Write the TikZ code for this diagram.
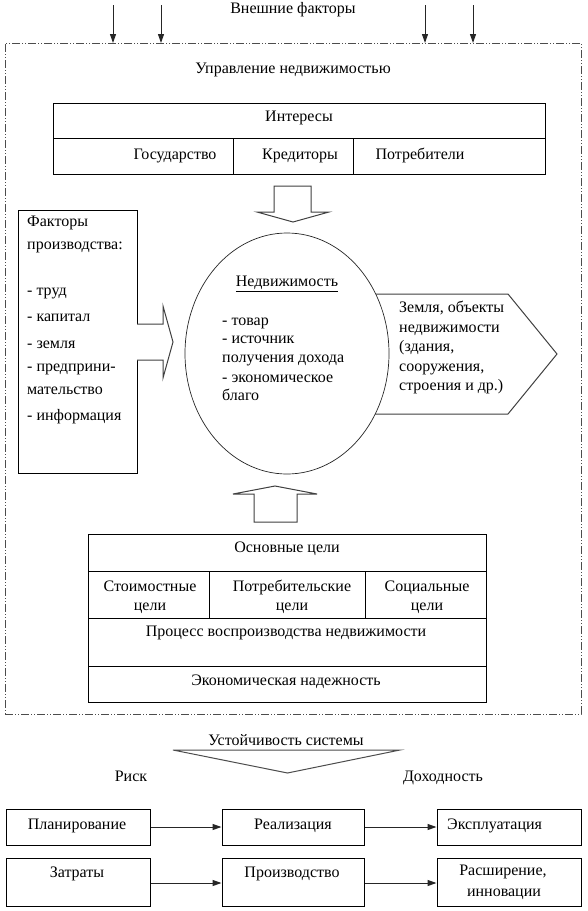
\documentclass[tikz,border=0pt]{standalone}
\usepackage{fontspec}
\setmainfont{Liberation Serif}
\usetikzlibrary{arrows.meta,shapes.geometric}
\begin{document}
\begin{tikzpicture}[x=1pt,y=-1pt,
  txt/.style={inner sep=0pt, text height=11pt, text depth=4pt, font=\fontsize{16}{19}\selectfont},
  ltxt/.style={txt, anchor=west},
  cell/.style={draw, line width=1pt, inner sep=0pt},
  blockarrow/.style={draw=black!75, line width=1pt, fill=white, line join=miter},
  arr/.style={draw=black!85, line width=1pt, -{Triangle[length=9pt,width=6pt]}},
  frame/.style={draw=black!70, line width=0.8pt, inner sep=0pt, dash pattern=on 8pt off 2pt on 1pt off 2pt on 1pt off 2pt},
]
\useasboundingbox (0,0) rectangle (587,911);
\fill[white] (0,0) rectangle (587,911);

% external factors
\node[txt] (ext) at (293,10) {Внешние факторы};
\coordinate (a1s) at (113,5);  \coordinate (a1e) at (113,43);
\coordinate (a2s) at (161,5);  \coordinate (a2e) at (161,43);
\coordinate (a3s) at (425,5);  \coordinate (a3e) at (425,43);
\coordinate (a4s) at (473,5);  \coordinate (a4e) at (473,43);
\draw[arr] (a1s) -- (a1e);
\draw[arr] (a2s) -- (a2e);
\draw[arr] (a3s) -- (a3e);
\draw[arr] (a4s) -- (a4e);

% frame
\node[frame, minimum width=576pt, minimum height=671pt] (fr) at (293,378.5) {};
\node[txt] (upr) at (293,70) {Управление недвижимостью};

% interests table
\node[cell, minimum width=492pt, minimum height=35pt] (inttop) at (299,120.5) {};
\node[cell, minimum width=180pt, minimum height=36pt] (gos) at (143,156) {};
\node[cell, minimum width=120pt, minimum height=36pt] (kred) at (293,156) {};
\node[cell, minimum width=192pt, minimum height=36pt] (potr) at (449,156) {};
\node[txt] (tint) at (299,118) {Интересы};
\node[txt] (tgos) at (175,156) {Государство};
\node[txt] (tkred) at (300,156) {Кредиторы};
\node[txt] (tpotr) at (420,156) {Потребители};

% down block arrow
\draw[blockarrow] (274,186) -- (311,186) -- (311,212) -- (329,212) -- (293,222) -- (257,212) -- (274,212) -- cycle;

% factors box
\node[cell, minimum width=119pt, minimum height=263pt] (fact) at (77.5,341.5) {};
\node[ltxt] (f1) at (27,223) {Факторы};
\node[ltxt] (f2) at (27,246) {производства:};
\node[ltxt] (f3) at (27,292) {- труд};
\node[ltxt] (f4) at (27,318) {- капитал};
\node[ltxt] (f5) at (27,345) {- земля};
\node[ltxt] (f6) at (27,368) {- предприни-};
\node[ltxt] (f7) at (27,391) {мательство};
\node[ltxt] (f8) at (27,417) {- информация};

% right block arrow from factors
\draw[blockarrow] (137,324) -- (163,324) -- (163,306) -- (173,342) -- (163,378) -- (163,360) -- (137,360);

% pentagon
\draw[blockarrow] (330,294) -- (508,294) -- (557,354) -- (508,414) -- (330,414);
\node[ltxt] (p1) at (399,309) {Земля, объекты};
\node[ltxt] (p2) at (399,329) {недвижимости};
\node[ltxt] (p3) at (399,348) {(здания,};
\node[ltxt] (p4) at (399,368) {сооружения,};
\node[ltxt] (p5) at (399,387) {строения и др.)};

% ellipse
\node[draw=black!85, line width=0.7pt, ellipse, fill=white, inner sep=0pt, minimum width=204pt, minimum height=241pt] (ell) at (287,353.5) {};
\node[txt] (nedv) at (287,283) {\underline{Недвижимость}};
\node[ltxt] (e1) at (222,322) {- товар};
\node[ltxt] (e2) at (222,340) {- источник};
\node[ltxt] (e3) at (222,359) {получения дохода};
\node[ltxt] (e4) at (222,379) {- экономическое};
\node[ltxt] (e5) at (222,397) {благо};

% up block arrow
\draw[blockarrow] (254,522) -- (254,494) -- (233,494) -- (275,486) -- (317,494) -- (297,494) -- (297,522) -- cycle;

% goals table
\node[cell, minimum width=398pt, minimum height=37pt] (gtop) at (287,552.5) {};
\node[cell, minimum width=121pt, minimum height=47pt] (g1) at (148.5,594.5) {};
\node[cell, minimum width=156pt, minimum height=47pt] (g2) at (287,594.5) {};
\node[cell, minimum width=121pt, minimum height=47pt] (g3) at (425.5,594.5) {};
\node[cell, minimum width=398pt, minimum height=48pt] (gproc) at (287,642) {};
\node[cell, minimum width=398pt, minimum height=36pt] (gecon) at (287,684) {};
\node[txt] (tg) at (287,549) {Основные цели};
\node[txt] (tg1a) at (150,588) {Стоимостные};
\node[txt] (tg1b) at (150,607) {цели};
\node[txt] (tg2a) at (292,588) {Потребительские};
\node[txt] (tg2b) at (292,607) {цели};
\node[txt] (tg3a) at (427,588) {Социальные};
\node[txt] (tg3b) at (427,607) {цели};
\node[txt] (tproc) at (286,633) {Процесс воспроизводства недвижимости};
\node[txt] (tecon) at (286,682) {Экономическая надежность};

% bottom section
\node[txt] (ust) at (286,742) {Устойчивость системы};
\draw[draw=black!70, line width=1pt] (173,750) -- (400,750) -- (287.5,773) -- cycle;
\node[txt] (risk) at (131,778) {Риск};
\node[txt] (doh) at (443,778) {Доходность};

\node[cell, minimum width=144pt, minimum height=36pt] (plan) at (78,827) {};
\node[cell, minimum width=142pt, minimum height=36pt] (real) at (293,827) {};
\node[cell, minimum width=144pt, minimum height=36pt] (expl) at (509,827) {};
\node[cell, minimum width=144pt, minimum height=48pt] (zat) at (78,882) {};
\node[cell, minimum width=142pt, minimum height=48pt] (proizv) at (293,882) {};
\node[cell, minimum width=144pt, minimum height=48pt] (rassh) at (509,882) {};

\node[txt] (tplan) at (77,826) {Планирование};
\node[txt] (treal) at (293,826) {Реализация};
\node[ltxt] (texpl) at (447,826) {Эксплуатация};
\node[txt] (tzat) at (77,874) {Затраты};
\node[txt] (tproizv) at (292,874) {Производство};
\node[txt] (trassh1) at (503,872) {Расширение,};
\node[txt] (trassh2) at (504,893) {инновации};

\draw[arr] (plan.east) -- (real.west);
\draw[arr] (real.east) -- (expl.west);
\draw[arr] ([yshift=-1pt]zat.east) -- ([yshift=-1pt]proizv.west);
\draw[arr] ([yshift=-1pt]proizv.east) -- ([yshift=-1pt]rassh.west);
\end{tikzpicture}
\end{document}
